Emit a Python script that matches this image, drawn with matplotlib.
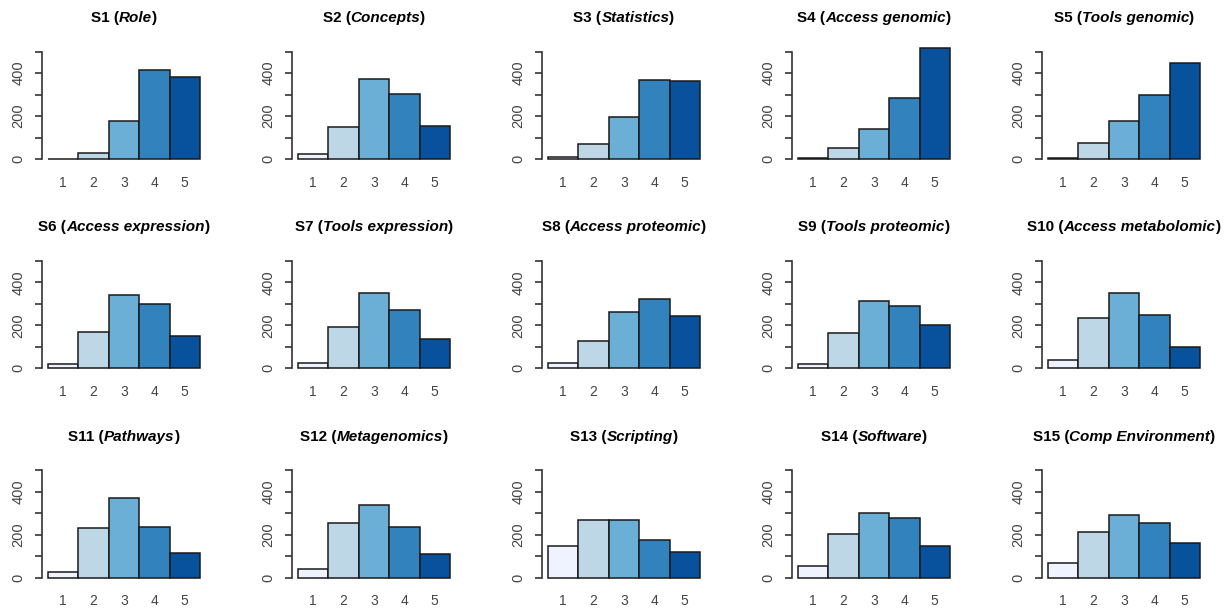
import matplotlib
matplotlib.use("Agg")
import matplotlib.pyplot as plt
from matplotlib.offsetbox import TextArea, HPacker, AnnotationBbox

plt.rcParams["font.family"] = ["Liberation Sans", "DejaVu Sans"]

# survey items
codes = ["S1", "S2", "S3", "S4", "S5", "S6", "S7", "S8", "S9", "S10",
         "S11", "S12", "S13", "S14", "S15"]
topics = ["Role", "Concepts", "Statistics", "Access genomic", "Tools genomic",
          "Access expression", "Tools expression", "Access proteomic",
          "Tools proteomic", "Access metabolomic", "Pathways", "Metagenomics",
          "Scripting", "Software", "Comp Environment"]
levels = ["1", "2", "3", "4", "5"]

# answer counts per item, levels 1..5
counts = [
    [2, 26, 176, 416, 380],
    [22, 148, 374, 302, 153],
    [9, 68, 195, 367, 363],
    [3, 51, 139, 285, 517],
    [3, 75, 176, 297, 447],
    [18, 169, 340, 300, 148],
    [23, 194, 348, 272, 134],
    [23, 129, 263, 323, 242],
    [18, 165, 314, 288, 200],
    [40, 235, 348, 248, 100],
    [28, 229, 369, 235, 115],
    [40, 252, 340, 235, 111],
    [146, 269, 269, 177, 121],
    [52, 204, 300, 277, 146],
    [69, 211, 290, 253, 162],
]

blues = ["#EFF3FF", "#BDD7E7", "#6BAED6", "#3182BD", "#08519C"]

W, H = 1231, 611
fig = plt.figure(figsize=(W / 100, H / 100), dpi=100)

px_per_unit = 0.215
for i in range(15):
    r, c = divmod(i, 5)
    left = 42 + 250 * c
    y0 = 159 + 209.3 * r
    top = y0 - 520 * px_per_unit
    bottom = y0 + 20 * px_per_unit
    ax = fig.add_axes([left / W, 1 - bottom / H, 164 / W, (bottom - top) / H])

    x = [k + 0.5 for k in range(5)]
    ax.bar(x, counts[i], width=1.0, color=blues, edgecolor="#1a1a1a",
           linewidth=1.1)
    ax.set_xlim(-0.2, 5.2)
    ax.set_ylim(-20, 520)

    for s in ["top", "right", "bottom"]:
        ax.spines[s].set_visible(False)
    ax.spines["left"].set_bounds(0, 500)
    ax.spines["left"].set_color("#333333")
    ax.spines["left"].set_linewidth(1.2)

    ax.set_yticks([0, 100, 200, 300, 400, 500])
    ax.set_yticklabels(["0", "", "200", "", "400", ""], rotation=90,
                       va="center", fontsize=10.5, color="#444444")
    ax.tick_params(axis="y", length=5, width=1.2, color="#333333", pad=7)
    ax.set_xticks(x)
    ax.set_xticklabels(levels, fontsize=10, color="#444444")
    ax.tick_params(axis="x", length=0, pad=9)

    # title: bold code, bold italic topic
    parts = [
        TextArea(codes[i] + " (", textprops=dict(fontweight="bold", fontsize=11)),
        TextArea(topics[i], textprops=dict(fontweight="bold", fontstyle="italic",
                                           fontsize=11)),
        TextArea(")", textprops=dict(fontweight="bold", fontsize=11)),
    ]
    box = HPacker(children=parts, pad=0, sep=0, align="baseline")
    ab = AnnotationBbox(box, (left + 82, H - (18 + 209.3 * r)),
                        xycoords="figure pixels", frameon=False,
                        box_alignment=(0.5, 0.5), pad=0)
    fig.add_artist(ab)

fig.savefig("out.png", dpi=100)
